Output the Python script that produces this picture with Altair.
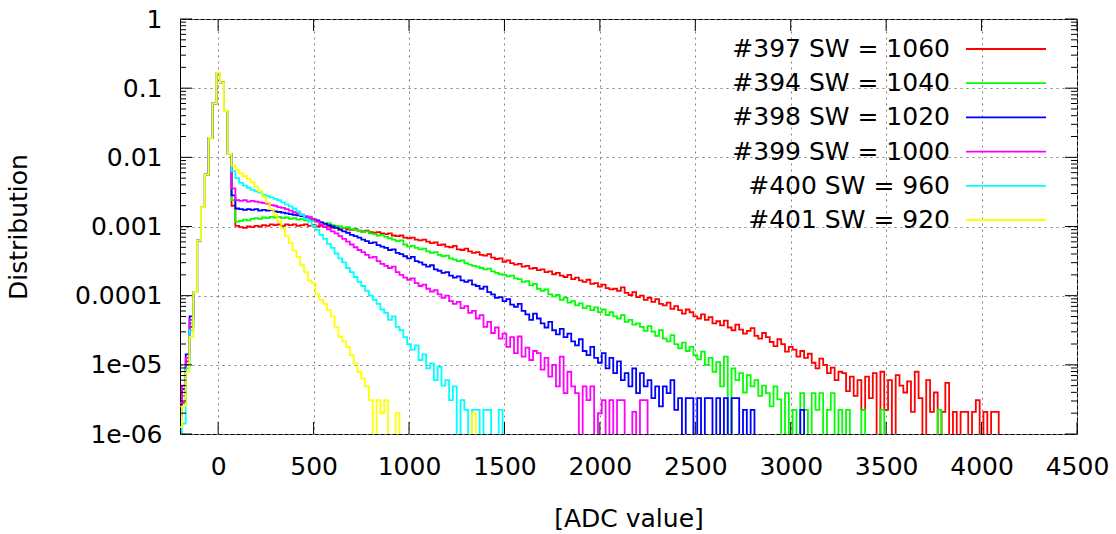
import json

import altair as alt
import pandas as pd

# Histogram bins: centres at -200, -180, ... (width 20 ADC counts)
ADC_START = -200
BIN_WIDTH = 20

SERIES = ["#397 SW = 1060", "#394 SW = 1040", "#398 SW = 1020",
          "#399 SW = 1000", "#400 SW = 960", "#401 SW = 920"]
COLORS = ["#ff0000", "#00ff00", "#0000ff", "#ff00ff", "#00ffff", "#ffff00"]

X_TICKS = [0, 500, 1000, 1500, 2000, 2500, 3000, 3500, 4000, 4500]
Y_DECADES = [1e-6, 1e-5, 1e-4, 1e-3, 1e-2, 1e-1, 1]
Y_TICK_LABELS = ["1e-06", "1e-05", "0.0001", "0.001", "0.01", "0.1", "1"]

Z = None  # empty bin (log of zero)

# log10(distribution) per bin.
# first four bins (-200 .. -140), different for every run
HEAD = {
    "#397 SW = 1060": [-5.40, -5.55, -4.95, -4.45],
    "#394 SW = 1040": [-5.60, -5.45, -5.00, -4.40],
    "#398 SW = 1020": [-5.75, -5.35, -4.85, -4.30],
    "#399 SW = 1000": [-5.55, -5.30, -4.90, -4.35],
    "#400 SW = 960": [Z, -5.85, -5.05, -4.50],
    "#401 SW = 920": [-5.90, -5.60, -5.10, -4.60],
}

# pedestal peak, common to all runs (-120 .. 60)
PEAK = [-3.95, -3.20, -2.72, -2.25, -1.72, -1.22, -0.78, -0.92, -1.33, -1.95]

# signal tails, from 80 upwards
TAIL_397 = [
    -2.70, -2.99, -3.01, -3.02, -3.00, -3.01, -2.99, -3.00, -2.98, -2.99,
    -2.97, -2.98, -2.97, -2.99, -2.97, -2.98, -2.97, -2.99, -2.98, -2.97,
    -2.99, -2.98, -3.00, -2.99, -3.01, -3.00, -3.02, -3.01, -3.03, -3.02,
    -3.04, -3.05, -3.04, -3.06, -3.07, -3.06, -3.08, -3.09, -3.08, -3.10,
    -3.11, -3.10, -3.13, -3.14, -3.13, -3.16, -3.17, -3.16, -3.19, -3.20,
    -3.19, -3.22, -3.24, -3.23, -3.27, -3.26, -3.29, -3.30, -3.28, -3.33,
    -3.34, -3.32, -3.36, -3.38, -3.37, -3.41, -3.42, -3.40, -3.45, -3.47,
    -3.46, -3.51, -3.49, -3.53, -3.55, -3.54, -3.58, -3.57, -3.61, -3.60,
    -3.63, -3.62, -3.66, -3.65, -3.69, -3.67, -3.71, -3.73, -3.70, -3.76,
    -3.74, -3.78, -3.80, -3.77, -3.83, -3.82, -3.87, -3.84, -3.89, -3.91,
    -3.90, -3.93, -3.88, -3.96, -3.99, -3.95, -4.02, -4.00, -4.06, -4.03,
    -4.09, -4.05, -4.12, -4.14, -4.10, -4.19, -4.15, -4.21, -4.26, -4.20,
    -4.24, -4.30, -4.33, -4.27, -4.35, -4.31, -4.40, -4.37, -4.43, -4.36,
    -4.46, -4.50, -4.42, -4.49, -4.55, -4.51, -4.47, -4.58, -4.62, -4.54,
    -4.60, -4.67, -4.73, -4.63, -4.70, -4.81, -4.74, -4.78, -4.88, -4.80,
    -4.90, -4.84, -4.97, -5.05, -4.91, -5.00, -5.12, -5.04, -5.22, -5.10,
    -5.12, -5.38, -5.17, -5.45, -5.22, -5.65, -5.17, -5.48, -5.12, Z,
    -5.10, -5.65, -5.22, Z, -5.15, -5.30, -5.40, -5.24, -5.68, -5.10,
    -5.48, Z, -5.22, -5.68, -5.40, Z, -5.68, -5.26, Z, -5.68,
    Z, -5.68, -5.68, Z, -5.68, -5.51, Z, -5.68, Z, -5.68,
    -5.68, Z,
]
TAIL_394 = [
    -2.62, -2.93, -2.92, -2.90, -2.91, -2.89, -2.88, -2.89, -2.87, -2.88,
    -2.86, -2.87, -2.86, -2.88, -2.87, -2.89, -2.88, -2.90, -2.89, -2.91,
    -2.90, -2.92, -2.93, -2.94, -2.96, -2.95, -2.98, -2.99, -3.00, -3.02,
    -3.01, -3.04, -3.05, -3.06, -3.08, -3.07, -3.10, -3.11, -3.13, -3.12,
    -3.15, -3.17, -3.19, -3.21, -3.20, -3.26, -3.29, -3.28, -3.31, -3.33,
    -3.32, -3.36, -3.38, -3.37, -3.41, -3.43, -3.42, -3.46, -3.48, -3.50,
    -3.49, -3.53, -3.55, -3.57, -3.58, -3.60, -3.62, -3.61, -3.65, -3.67,
    -3.69, -3.70, -3.72, -3.71, -3.75, -3.76, -3.80, -3.79, -3.85, -3.83,
    -3.90, -3.93, -3.91, -3.98, -4.01, -3.99, -4.06, -4.03, -4.10, -4.08,
    -4.14, -4.11, -4.18, -4.15, -4.21, -4.17, -4.24, -4.20, -4.28, -4.24,
    -4.30, -4.33, -4.28, -4.38, -4.35, -4.42, -4.40, -4.45, -4.51, -4.44,
    -4.52, -4.58, -4.50, -4.62, -4.66, -4.57, -4.70, -4.76, -4.68, -4.80,
    -4.74, -4.86, -4.92, -4.81, -5.00, -4.90, -5.10, -4.96, -5.31, -4.88,
    Z, -5.05, -5.22, -5.12, -5.40, -5.15, -5.31, -5.22, -5.45, -5.30,
    -5.41, -5.60, -5.31, -5.50, Z, -5.41, Z, -5.65, Z, -5.41,
    -5.65, Z, -5.41, -5.65, -5.41, Z, -5.65, -5.41, Z, -5.65,
    Z, -5.65, Z, Z, Z, -5.65, Z, Z, Z, Z,
    -5.65, Z, Z, Z, Z, Z, Z, Z, Z, Z,
    Z, Z, Z, Z, Z, -5.65, Z,
]
TAIL_398 = [
    -2.55, -2.74, -2.75, -2.76, -2.75, -2.76, -2.75, -2.77, -2.76, -2.77,
    -2.76, -2.78, -2.79, -2.80, -2.81, -2.82, -2.83, -2.84, -2.85, -2.86,
    -2.87, -2.89, -2.91, -2.94, -2.96, -2.98, -3.00, -3.02, -3.05, -3.07,
    -3.09, -3.12, -3.14, -3.16, -3.19, -3.21, -3.24, -3.23, -3.27, -3.29,
    -3.31, -3.34, -3.33, -3.38, -3.40, -3.43, -3.46, -3.44, -3.50, -3.52,
    -3.55, -3.58, -3.56, -3.62, -3.64, -3.67, -3.66, -3.71, -3.74, -3.72,
    -3.78, -3.80, -3.78, -3.84, -3.86, -3.90, -3.87, -3.95, -3.98, -4.03,
    -4.02, -4.08, -4.05, -4.13, -4.16, -4.12, -4.22, -4.27, -4.35, -4.26,
    -4.33, -4.40, -4.46, -4.38, -4.50, -4.56, -4.48, -4.60, -4.55, -4.66,
    -4.72, -4.63, -4.80, -4.86, -4.74, -4.90, -4.97, -4.83, -5.05, -4.90,
    -5.12, -4.95, -5.22, -5.12, -5.31, -5.05, -5.41, -5.12, -5.31, -5.22,
    -5.48, -5.31, -5.60, -5.31, -5.41, -5.22, -5.65, -5.48, Z, -5.48,
    -5.48, Z, -5.48, Z, -5.48, -5.48, Z, -5.48, Z, -5.48,
    Z, -5.48, -5.48, Z, -5.65, Z, -5.65, Z, Z, Z,
    Z, Z, Z, Z, Z, Z, Z, Z, Z, -5.65,
    Z,
]
TAIL_399 = [
    -2.45, -2.62, -2.63, -2.62, -2.64, -2.63, -2.64, -2.65, -2.66, -2.67,
    -2.69, -2.70, -2.72, -2.73, -2.75, -2.77, -2.79, -2.81, -2.83, -2.85,
    -2.87, -2.89, -2.93, -2.97, -3.00, -3.04, -3.07, -3.10, -3.14, -3.18,
    -3.22, -3.26, -3.30, -3.34, -3.37, -3.41, -3.45, -3.44, -3.50, -3.54,
    -3.57, -3.60, -3.58, -3.66, -3.70, -3.74, -3.77, -3.75, -3.82, -3.86,
    -3.84, -3.90, -3.94, -3.92, -3.98, -4.03, -4.00, -4.08, -4.12, -4.09,
    -4.18, -4.15, -4.25, -4.22, -4.33, -4.28, -4.45, -4.38, -4.54, -4.46,
    -4.62, -4.55, -4.74, -4.60, -4.83, -4.59, -4.88, -4.75, -4.93, -4.80,
    -4.83, -5.07, -4.90, -5.17, -5.00, -5.31, -4.88, -5.41, -5.10, -5.31,
    -5.41, Z, -5.31, -5.51, -5.31, Z, -5.70, -5.51, Z, -5.51,
    Z, -5.51, -5.51, Z, Z, -5.68, Z, -5.51, -5.51, Z,
]
TAIL_400 = [
    -2.20, -2.30, -2.37, -2.41, -2.44, -2.47, -2.49, -2.51, -2.54, -2.56,
    -2.58, -2.60, -2.62, -2.65, -2.68, -2.71, -2.74, -2.78, -2.83, -2.89,
    -2.93, -2.99, -3.05, -3.12, -3.18, -3.25, -3.31, -3.39, -3.46, -3.52,
    -3.60, -3.66, -3.73, -3.80, -3.86, -3.93, -4.00, -4.06, -4.12, -4.20,
    -4.25, -4.35, -4.30, -4.45, -4.50, -4.60, -4.70, -4.78, -4.72, -4.93,
    -4.85, -5.05, -4.98, -5.22, -5.03, -5.30, -5.22, -5.51, -5.31, Z,
    -5.51, -5.65, Z, -5.65, -5.65, Z, -5.65, -5.65, Z, Z,
    -5.65, Z,
]
TAIL_401 = [
    -2.12, -2.18, -2.23, -2.27, -2.31, -2.36, -2.42, -2.49, -2.57, -2.65,
    -2.75, -2.84, -2.93, -3.03, -3.14, -3.24, -3.35, -3.44, -3.56, -3.66,
    -3.78, -3.82, -3.98, -4.06, -4.12, -4.21, -4.30, -4.45, -4.59, -4.66,
    -4.74, -4.86, -4.98, -5.10, -5.20, -5.31, -5.51, Z, -5.51, -5.70,
    -5.51, Z, Z, -5.70, Z, Z, Z, Z, Z, Z,
    Z, Z, Z, Z, Z, Z, Z, Z, Z, Z,
    Z, Z, Z, -5.70, Z,
]

TAILS = {
    "#397 SW = 1060": TAIL_397,
    "#394 SW = 1040": TAIL_394,
    "#398 SW = 1020": TAIL_398,
    "#399 SW = 1000": TAIL_399,
    "#400 SW = 960": TAIL_400,
    "#401 SW = 920": TAIL_401,
}

EMPTY_LEVEL = 1e-9  # empty bins fall below the axis and get clipped

rows = []
for name in SERIES:
    logs = HEAD[name] + PEAK + TAILS[name]
    for i, lv in enumerate(logs):
        rows.append({
            "series": name,
            "adc": ADC_START + BIN_WIDTH * i,
            "value": EMPTY_LEVEL if lv is None else 10 ** lv,
        })
df = pd.DataFrame(rows)

W, H = 897, 415
FONT = "DejaVu Sans"
MAJOR, MINOR = 12, 6
LINE_W = 1.8

x_scale = alt.Scale(domain=[-200, 4500], nice=False, zero=False)
y_scale = alt.Scale(type="log", domain=[1e-6, 1], nice=False)
color_scale = alt.Scale(domain=SERIES, range=COLORS)

x_axis = alt.Axis(
    values=X_TICKS, format="d", grid=True, gridColor="#808080", gridDash=[2, 4],
    gridWidth=1, ticks=False, tickSize=0, domain=False, labelFlush=False,
    labelFont=FONT, labelFontSize=25, labelColor="black", labelPadding=32,
    labelBaseline="middle", title="[ADC value]", titleFont=FONT, titleFontSize=25,
    titleFontWeight="normal", titleColor="black", titleY=84, titleBaseline="middle",
)
label_expr = json.dumps(Y_TICK_LABELS) + "[round(log(datum.value) / LN10) + 6]"
y_axis = alt.Axis(
    values=Y_DECADES, labelExpr=label_expr, grid=True, gridColor="#808080",
    gridDash=[2, 4], gridWidth=1, ticks=False, tickSize=0, domain=False,
    labelFont=FONT, labelFontSize=25, labelColor="black", labelPadding=18,
    labelAlign="right", labelBaseline="middle", labelOverlap=False,
    title="Distribution", titleFont=FONT, titleFontSize=25, titleFontWeight="normal",
    titleColor="black", titleX=-162, titleY=H / 2, titleAlign="center",
    titleBaseline="middle", titleAngle=270,
)

X = alt.X("adc:Q", scale=x_scale, axis=x_axis)
Y = alt.Y("value:Q", scale=y_scale, axis=y_axis)

plot_layers = []
for name in SERIES:
    plot_layers.append(
        alt.Chart(df)
        .transform_filter(alt.datum.series == name)
        .mark_line(interpolate="step", strokeWidth=LINE_W, clip=True)
        .encode(x=X, y=Y, color=alt.Color("series:N", scale=color_scale, legend=None))
    )

# inward tick marks on all four sides
y_minor = [m * d for d in Y_DECADES[:-1] for m in range(2, 10)]
ymaj_df = pd.DataFrame({"value": Y_DECADES})
ymin_df = pd.DataFrame({"value": y_minor})
xmaj_df = pd.DataFrame({"adc": X_TICKS})


def y_ticks(data, x0, x1):
    return alt.Chart(data).mark_rule(color="black", strokeWidth=1).encode(
        y=Y, x=alt.value(x0), x2=alt.value(x1))


def x_ticks(data, y0, y1):
    return alt.Chart(data).mark_rule(color="black", strokeWidth=1).encode(
        x=X, y=alt.value(y0), y2=alt.value(y1))


plot_layers += [
    y_ticks(ymaj_df, 0, MAJOR), y_ticks(ymin_df, 0, MINOR),
    y_ticks(ymaj_df, W - MAJOR, W), y_ticks(ymin_df, W - MINOR, W),
    x_ticks(xmaj_df, H - MAJOR, H), x_ticks(xmaj_df, 0, MAJOR),
]
plot = alt.layer(*plot_layers)

# key in the upper right: run label followed by a line sample
key_df = pd.DataFrame({"series": SERIES})
key_y = alt.Y("series:N", sort=SERIES, axis=None,
              scale=alt.Scale(type="point", domain=SERIES, range=[30, 201], padding=0))
key_text = alt.Chart(key_df).mark_text(
    align="right", baseline="middle", font=FONT, fontSize=25, color="black"
).encode(y=key_y, x=alt.value(770), text="series:N")
key_line = alt.Chart(key_df).mark_rule(strokeWidth=LINE_W).encode(
    y=key_y, x=alt.value(786), x2=alt.value(866),
    color=alt.Color("series:N", scale=color_scale, legend=None),
)
key = alt.layer(key_text, key_line)

chart = (
    alt.layer(plot, key)
    .resolve_scale(y="independent")
    .properties(
        width=W, height=H,
        autosize=alt.AutoSizeParams(type="none"),
        padding={"left": 180, "top": 19, "right": 39, "bottom": 100},
    )
    .configure_view(stroke="black", strokeWidth=1)
)

chart.save("out.html", embed_options={"renderer": "svg", "actions": False})
